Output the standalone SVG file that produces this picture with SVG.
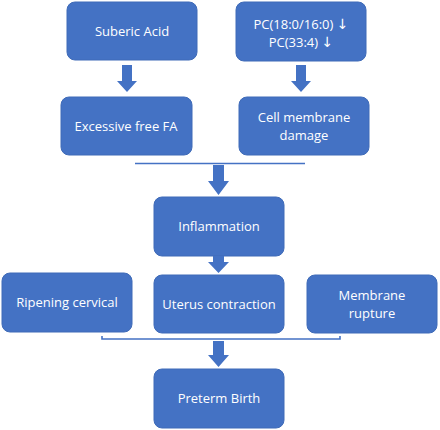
<svg xmlns="http://www.w3.org/2000/svg" width="440" height="430" viewBox="0 0 440 430">
<defs>
<style>
.box{fill:#4472C4;stroke:#3F6BB8;stroke-width:1}
.t{font-family:"Open Sans","Noto Sans",sans-serif;font-size:13px;fill:#ffffff;text-anchor:middle}
.dn{font-family:"DejaVu Sans",sans-serif;font-size:14px}
.ln{stroke:#4472C4;stroke-width:1.6;fill:none}
.ar{fill:#4472C4}
</style>
</defs>
<rect width="440" height="430" fill="#ffffff"/>
<g id="suberic"><rect class="box" x="67" y="2" width="130" height="58" rx="8"/><text class="t" x="132" y="36">Suberic Acid</text></g>
<g id="pc"><rect class="box" x="236" y="2" width="130" height="59" rx="8"/><text class="t" x="301" y="29">PC(18:0/16:0) <tspan class="dn">↓</tspan></text><text class="t" x="301" y="47">PC(33:4) <tspan class="dn">↓</tspan></text></g>
<g id="freefa"><rect class="box" x="61" y="97" width="131" height="58" rx="8"/><text class="t" x="126" y="131">Excessive free FA</text></g>
<g id="cellmem"><rect class="box" x="239" y="97" width="130" height="58" rx="8"/><text class="t" x="304" y="122">Cell membrane</text><text class="t" x="304" y="140">damage</text></g>
<g id="inflammation"><rect class="box" x="154" y="197" width="130" height="59" rx="8"/><text class="t" x="219" y="231">Inflammation</text></g>
<g id="ripening"><rect class="box" x="2" y="273" width="130" height="59" rx="8"/><text class="t" x="67" y="307">Ripening cervical</text></g>
<g id="uterus"><rect class="box" x="154" y="275" width="130" height="58" rx="8"/><text class="t" x="219" y="309">Uterus contraction</text></g>
<g id="rupture"><rect class="box" x="307" y="275" width="130" height="58" rx="8"/><text class="t" x="372" y="300">Membrane</text><text class="t" x="372" y="318">rupture</text></g>
<g id="preterm"><rect class="box" x="154" y="369" width="130" height="59" rx="8"/><text class="t" x="219" y="403">Preterm Birth</text></g>
<g id="connectors">
<polygon class="ar" points="122,65 132,65 132,81 137,81 127,92 117,81 122,81"/>
<polygon class="ar" points="296,65 306,65 306,81 311,81 301,92 291,81 296,81"/>
<line class="ln" x1="135" y1="163.5" x2="305" y2="163.5"/>
<polygon class="ar" points="213,165 224,165 224,181 229,181 218.5,195 208,181 213,181"/>
<polygon class="ar" points="213,256 224,256 224,262 229,262 218.5,273 208,262 213,262"/>
<polyline class="ln" points="102,336 102,339 340,339 340,336"/>
<polygon class="ar" points="213,341 224,341 224,355 229,355 218.5,367 208,355 213,355"/>
</g>
</svg>
